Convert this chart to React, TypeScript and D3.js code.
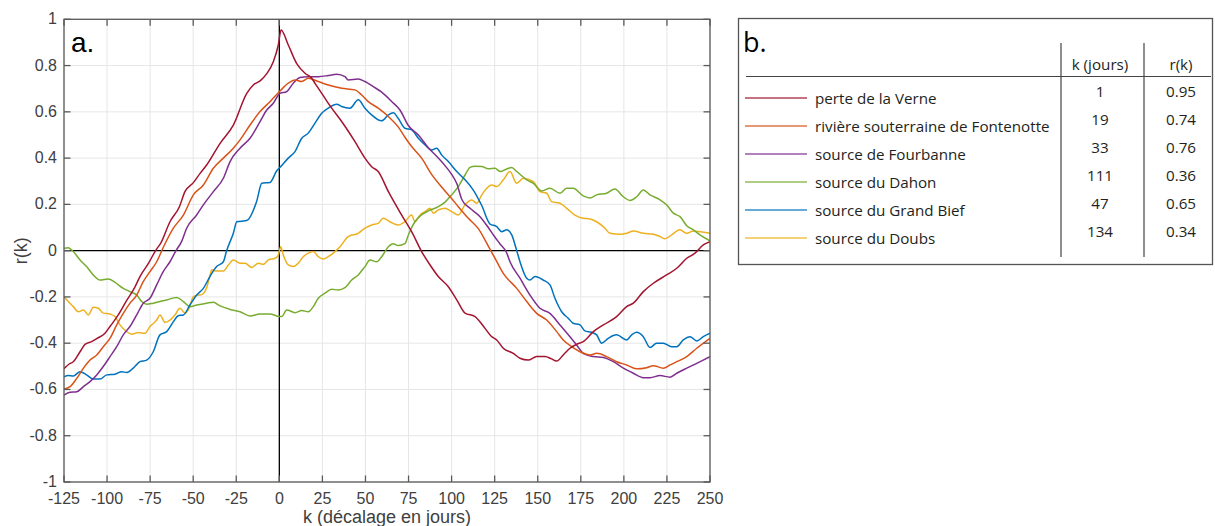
import React from "react";
import * as d3 from "d3";

type Pt = [number, number];

const verne: Pt[] = [[-125,-0.51],[-122,-0.49],[-119.6,-0.48],[-115.7,-0.437],[-112.8,-0.405],[-109,-0.393],[-106,-0.38],[-101.2,-0.357],[-98.3,-0.328],[-93.5,-0.278],[-88.6,-0.215],[-84,-0.16],[-80.9,-0.112],[-76,-0.055],[-71,0.01],[-69,0.03],[-63.5,0.125],[-58,0.19],[-54.8,0.255],[-49.9,0.294],[-46,0.334],[-42.2,0.37],[-34.4,0.464],[-26.7,0.543],[-18.9,0.68],[-15.1,0.716],[-11,0.735],[-7.3,0.765],[-3.5,0.817],[-0.6,0.889],[1,0.954],[5.2,0.889],[10,0.81],[14.9,0.767],[18.8,0.745],[21,0.72],[24.6,0.68],[30.4,0.616],[36.2,0.558],[43.9,0.471],[49.7,0.4],[53.6,0.363],[57.4,0.342],[63.3,0.255],[71,0.154],[76.8,0.082],[82.6,-0.004],[87.5,-0.062],[92.3,-0.112],[98.1,-0.156],[103,-0.213],[107.8,-0.27],[113.6,-0.285],[119.4,-0.336],[123,-0.37],[126.2,-0.386],[130,-0.422],[135.8,-0.444],[139.7,-0.465],[144.5,-0.473],[149.4,-0.458],[154.2,-0.458],[158,-0.468],[161,-0.477],[164.8,-0.451],[168.7,-0.422],[172.5,-0.405],[176.4,-0.393],[182.3,-0.35],[188.1,-0.321],[195.8,-0.285],[201.6,-0.242],[205.5,-0.227],[211.3,-0.177],[217.1,-0.141],[224.8,-0.105],[230.7,-0.076],[236.5,-0.033],[241.3,-0.011],[246.1,0.025],[250,0.039]];

const fontenotte: Pt[] = [[-125,-0.598],[-121.5,-0.588],[-117.6,-0.552],[-113.7,-0.508],[-109.9,-0.473],[-106,-0.451],[-102.2,-0.415],[-98.3,-0.379],[-94.4,-0.321],[-90.6,-0.271],[-86.7,-0.227],[-82.8,-0.192],[-79,-0.134],[-75.1,-0.091],[-71.2,-0.048],[-67,0.02],[-61.5,0.097],[-55.7,0.154],[-49.9,0.241],[-44.1,0.284],[-38.3,0.356],[-32.5,0.4],[-26.7,0.443],[-22.8,0.479],[-17,0.543],[-11.2,0.601],[-5.4,0.644],[0.4,0.69],[5.2,0.724],[9.1,0.738],[13,0.731],[16.8,0.745],[22.6,0.731],[28.4,0.716],[36.2,0.702],[43.9,0.695],[47.8,0.673],[51.6,0.644],[57.4,0.616],[63.3,0.58],[69,0.535],[72.9,0.49],[76.8,0.45],[82.6,0.4],[88.4,0.33],[94.2,0.275],[100,0.225],[103.9,0.19],[109.7,0.14],[115.5,0.095],[121.3,0.02],[125,-0.03],[130,-0.098],[137.8,-0.163],[143.6,-0.22],[149.4,-0.271],[155.2,-0.3],[161,-0.35],[164.8,-0.386],[169.7,-0.415],[174.5,-0.437],[180.3,-0.451],[184.2,-0.444],[190,-0.458],[195.8,-0.48],[201.6,-0.494],[207.4,-0.511],[213.2,-0.506],[217.1,-0.497],[222.9,-0.508],[226.8,-0.494],[230.7,-0.48],[236.5,-0.458],[242.3,-0.422],[250,-0.379]];

const fourbanne: Pt[] = [[-125,-0.624],[-121.5,-0.612],[-117.6,-0.61],[-113.7,-0.588],[-109.9,-0.566],[-106,-0.537],[-102.2,-0.501],[-98.3,-0.458],[-94.4,-0.415],[-90.6,-0.364],[-86.7,-0.328],[-82.8,-0.278],[-79,-0.227],[-75.1,-0.206],[-71.2,-0.148],[-67.4,-0.091],[-63.5,-0.048],[-60,0.0],[-56.7,0.04],[-53.8,0.097],[-48,0.154],[-44.1,0.198],[-38.3,0.255],[-32.5,0.313],[-28.6,0.385],[-22.8,0.443],[-17,0.486],[-11.2,0.558],[-7.3,0.608],[-3.5,0.637],[0.4,0.68],[4.2,0.687],[8.1,0.724],[11.9,0.748],[16.8,0.752],[22.6,0.752],[28.4,0.757],[33.3,0.763],[38.1,0.752],[40,0.738],[45.8,0.742],[49.7,0.731],[54.5,0.709],[59.4,0.685],[65.2,0.645],[70,0.608],[75,0.54],[80.7,0.5],[86.5,0.445],[92.3,0.4],[97,0.36],[100,0.33],[103,0.29],[106,0.22],[110.7,0.183],[116.5,0.147],[121.3,0.1],[125,0.06],[128,0.03],[132,-0.01],[133.9,-0.048],[139.7,-0.119],[145.5,-0.192],[151.3,-0.249],[157.1,-0.271],[162.9,-0.321],[168.7,-0.372],[172.6,-0.408],[176.4,-0.444],[182.3,-0.458],[188.1,-0.462],[193.9,-0.48],[199.7,-0.508],[205.5,-0.53],[211.3,-0.549],[215.2,-0.549],[221,-0.54],[226.8,-0.547],[230.7,-0.53],[236.5,-0.508],[242.3,-0.487],[250,-0.458]];

const dahon: Pt[] = [[-125,0.01],[-122.5,0.013],[-119.6,-0.004],[-115.7,-0.04],[-111.9,-0.069],[-108,-0.105],[-104.1,-0.127],[-99.3,-0.122],[-95.4,-0.137],[-90.6,-0.163],[-86.7,-0.177],[-82.8,-0.192],[-79.9,-0.22],[-77,-0.232],[-73.2,-0.227],[-69.3,-0.22],[-65.4,-0.213],[-59.6,-0.202],[-55.7,-0.22],[-51.9,-0.242],[-48,-0.235],[-42.2,-0.227],[-38.3,-0.223],[-34.4,-0.239],[-28.6,-0.254],[-22.8,-0.264],[-17,-0.282],[-11.2,-0.274],[-5.4,-0.274],[0,-0.285],[1.4,-0.285],[4.3,-0.256],[9.1,-0.268],[13,-0.259],[16.8,-0.264],[19.7,-0.242],[22.6,-0.206],[26.5,-0.184],[30.4,-0.167],[34.2,-0.17],[38.1,-0.16],[42,-0.127],[45.8,-0.105],[49.7,-0.069],[52.6,-0.04],[56.5,-0.048],[59.4,-0.026],[63.3,0.017],[66,0.03],[69,0.022],[72.9,0.03],[74.9,0.068],[78.7,0.125],[82.6,0.155],[86.5,0.172],[92.3,0.19],[96.2,0.21],[100,0.241],[103.9,0.277],[107.8,0.327],[110.7,0.36],[113.6,0.365],[117.5,0.364],[121.3,0.354],[125.2,0.356],[128.1,0.342],[132,0.353],[134.9,0.359],[137.8,0.342],[143.6,0.306],[147.5,0.291],[152.3,0.258],[157.1,0.27],[162.9,0.248],[166.8,0.27],[170.6,0.27],[176.4,0.237],[180.3,0.228],[184.2,0.241],[190,0.248],[194.8,0.267],[199.7,0.233],[203.5,0.217],[207.4,0.233],[211.3,0.262],[215.2,0.241],[221,0.22],[224.8,0.198],[228.7,0.162],[232.6,0.147],[236.5,0.108],[240.3,0.09],[244.2,0.068],[250,0.042]];

const grandBief: Pt[] = [[-125,-0.545],[-122.5,-0.54],[-119.6,-0.542],[-115.7,-0.523],[-111.9,-0.537],[-108,-0.555],[-104.1,-0.555],[-100.2,-0.537],[-95.4,-0.534],[-91.5,-0.523],[-88.6,-0.527],[-84.8,-0.508],[-80.9,-0.48],[-77,-0.473],[-73.2,-0.437],[-69.3,-0.364],[-65.4,-0.35],[-61.5,-0.307],[-58.7,-0.281],[-55.7,-0.278],[-51.9,-0.235],[-48,-0.192],[-44.1,-0.163],[-40.3,-0.112],[-36.4,-0.069],[-32.5,-0.048],[-30.6,0.0],[-26.7,0.075],[-24.7,0.125],[-18.9,0.13],[-13.1,0.215],[-10.2,0.291],[-5.4,0.295],[-1.5,0.345],[0.4,0.36],[5.2,0.4],[9.1,0.428],[13,0.486],[16.8,0.508],[20.7,0.551],[24.6,0.594],[28.4,0.616],[33.3,0.633],[36.2,0.623],[41,0.616],[45.8,0.652],[49.7,0.616],[53.6,0.587],[59.4,0.561],[63.3,0.587],[66.2,0.596],[69,0.572],[72.9,0.529],[76.8,0.522],[80.7,0.486],[84.6,0.457],[88.4,0.435],[91.3,0.443],[94.2,0.414],[98.1,0.385],[103,0.342],[107.8,0.306],[112.6,0.262],[117.5,0.195],[122.3,0.115],[126.2,0.104],[129.1,0.082],[132,0.09],[134.9,0.068],[137.8,0.0],[139.7,-0.048],[143.6,-0.119],[145.5,-0.127],[148.4,-0.112],[153.2,-0.127],[157.1,-0.148],[160,-0.206],[163.9,-0.264],[167.7,-0.292],[170.6,-0.314],[174.5,-0.321],[177.4,-0.347],[181.3,-0.353],[184.2,-0.364],[187.1,-0.4],[190.9,-0.379],[195.8,-0.364],[201.6,-0.386],[204.5,-0.364],[207.4,-0.353],[211.3,-0.372],[215.2,-0.419],[219,-0.4],[222.9,-0.4],[227.7,-0.415],[230.7,-0.415],[234.5,-0.386],[238.4,-0.372],[242.3,-0.39],[246.1,-0.372],[250,-0.357]];

const doubs: Pt[] = [[-125,-0.199],[-122.5,-0.22],[-119.6,-0.242],[-116.7,-0.264],[-113.7,-0.256],[-110.9,-0.278],[-108,-0.245],[-105.1,-0.249],[-102.2,-0.27],[-98.3,-0.274],[-95.4,-0.285],[-92.5,-0.321],[-88.6,-0.35],[-85.7,-0.361],[-81.9,-0.354],[-78,-0.357],[-75.1,-0.328],[-71.2,-0.3],[-69.3,-0.278],[-66.4,-0.31],[-63.5,-0.3],[-60.6,-0.278],[-57.7,-0.249],[-54.8,-0.27],[-52.8,-0.256],[-49.9,-0.199],[-47,-0.192],[-45.1,-0.19],[-42.2,-0.16],[-40,-0.1],[-39.3,-0.083],[-36.4,-0.088],[-32.5,-0.088],[-29.6,-0.062],[-26.7,-0.04],[-22.8,-0.054],[-19.9,-0.054],[-16,-0.073],[-12.2,-0.054],[-9.3,-0.059],[-6.3,-0.04],[-2.5,-0.033],[-0.6,-0.019],[0.8,0.017],[2.3,-0.019],[5.2,-0.062],[8.1,-0.069],[11,-0.054],[13.9,-0.026],[16.8,-0.011],[19.7,-0.004],[22.6,-0.026],[25.5,-0.036],[28.4,-0.026],[32.3,-0.004],[35.2,0.017],[40,0.061],[45.8,0.075],[49.7,0.097],[53.6,0.111],[57.4,0.118],[60.3,0.14],[64.2,0.125],[69,0.111],[72.9,0.125],[76.8,0.154],[78.7,0.125],[81.7,0.154],[84.6,0.169],[87.5,0.183],[89.4,0.162],[92.3,0.176],[96.2,0.183],[100,0.169],[103.9,0.154],[107.8,0.198],[111.7,0.219],[114.6,0.205],[117.5,0.241],[120.4,0.27],[123.3,0.284],[126.2,0.277],[130,0.306],[133.9,0.342],[137.8,0.291],[141.6,0.313],[147.5,0.298],[151.3,0.255],[155.2,0.248],[158.1,0.212],[162.9,0.205],[166.8,0.183],[171.6,0.154],[176.4,0.14],[180.3,0.137],[184.2,0.125],[189,0.097],[191.9,0.075],[197.7,0.071],[201.6,0.075],[205.5,0.085],[211.3,0.075],[217.1,0.071],[221,0.061],[223.9,0.051],[227.7,0.068],[232.6,0.09],[236.5,0.075],[240.3,0.085],[244.2,0.082],[250,0.075]];

const seriesNames = ["perte de la Verne", "rivière souterraine de Fontenotte", "source de Fourbanne", "source du Dahon", "source du Grand Bief", "source du Doubs"];
const seriesData = [verne, fontenotte, fourbanne, dahon, grandBief, doubs];
const seriesColors = ["#A2142F", "#D95319", "#7E2F8E", "#77AC30", "#0072BD", "#EDB120"];
const lagK = ["1", "19", "33", "111", "47", "134"];
const lagR = ["0.95", "0.74", "0.76", "0.36", "0.65", "0.34"];
// draw order in the chart (Doubs and Dahon underneath)
const drawOrder = [5, 3, 4, 2, 1, 0];

const xTicks = [-125, -100, -75, -50, -25, 0, 25, 50, 75, 100, 125, 150, 175, 200, 225, 250];
const yTicks = [-1, -0.8, -0.6, -0.4, -0.2, 0, 0.2, 0.4, 0.6, 0.8, 1];
const yTickLabels = ["-1", "-0.8", "-0.6", "-0.4", "-0.2", "0", "0.2", "0.4", "0.6", "0.8", "1"];

const W = 1215, H = 526;
const PL = 64, PR = 710, PT = 19.3, PB = 482;

export default function App() {
  const x = d3.scaleLinear().domain([-125, 250]).range([PL, PR]);
  const y = d3.scaleLinear().domain([-1, 1]).range([PB, PT]);
  const line = d3.line<Pt>().x(d => x(d[0])).y(d => y(d[1])).curve(d3.curveMonotoneX);
  const axisColor = "#5a5a5a";
  const tickFont = "'Liberation Sans', Arial, Helvetica, sans-serif";
  const legFont = "'Open Sans', 'Noto Sans', sans-serif";
  const tl = 6.5;
  const rowY = (i: number) => 98 + i * 28;

  return (
    <svg width={W} height={H} style={{ position: "absolute", left: 0, top: 0, background: "#fff" }}>
      <defs>
        <clipPath id="plotclip">
          <rect x={PL} y={PT} width={PR - PL} height={PB - PT} />
        </clipPath>
      </defs>
      <rect x={0} y={0} width={W} height={H} fill="#fff" />
      {/* grid */}
      <g stroke="#e6e6e6" strokeWidth={1}>
        {xTicks.map(t => <line key={"gx" + t} x1={x(t)} x2={x(t)} y1={PT} y2={PB} />)}
        {yTicks.map(t => <line key={"gy" + t} x1={PL} x2={PR} y1={y(t)} y2={y(t)} />)}
      </g>
      {/* zero lines */}
      <g stroke="#000" strokeWidth={1.3}>
        <line x1={PL} x2={PR} y1={y(0)} y2={y(0)} />
        <line x1={x(0)} x2={x(0)} y1={PT} y2={PB} />
      </g>
      {/* series */}
      <g clipPath="url(#plotclip)" fill="none" strokeWidth={1.5} strokeLinejoin="round">
        {drawOrder.map(i => (
          <path key={"s" + i} d={line(seriesData[i]) || ""} stroke={seriesColors[i]} />
        ))}
      </g>
      {/* box and ticks */}
      <g stroke={axisColor} strokeWidth={1.3} fill="none">
        <rect x={PL} y={PT} width={PR - PL} height={PB - PT} />
        {xTicks.map(t => (
          <g key={"tx" + t}>
            <line x1={x(t)} x2={x(t)} y1={PB} y2={PB - tl} />
            <line x1={x(t)} x2={x(t)} y1={PT} y2={PT + tl} />
          </g>
        ))}
        {yTicks.map(t => (
          <g key={"ty" + t}>
            <line x1={PL} x2={PL + tl} y1={y(t)} y2={y(t)} />
            <line x1={PR} x2={PR - tl} y1={y(t)} y2={y(t)} />
          </g>
        ))}
      </g>
      {/* tick labels */}
      <g fill="#404040" fontFamily={tickFont} fontSize={16}>
        {xTicks.map(t => (
          <text key={"lx" + t} x={x(t)} y={PB + 21.5} textAnchor="middle">{String(t)}</text>
        ))}
        {yTicks.map((t, i) => (
          <text key={"ly" + t} x={PL - 7} y={y(t) + 5} textAnchor="end">{yTickLabels[i]}</text>
        ))}
      </g>
      <text x={(PL + PR) / 2} y={523} textAnchor="middle" fill="#404040" fontFamily={tickFont} fontSize={18}>k (décalage en jours)</text>
      <text transform={`translate(27, ${y(0)}) rotate(-90)`} textAnchor="middle" fill="#404040" fontFamily={tickFont} fontSize={18}>r(k)</text>
      <text x={71} y={52} fill="#000" fontFamily={tickFont} fontSize={28}>a.</text>

      {/* legend table */}
      <rect x={738.5} y={18.5} width={474} height={246} fill="#fff" stroke="#555" strokeWidth={1.3} />
      <text x={743} y={52} fill="#000" fontFamily={legFont} fontSize={27}>b.</text>
      <line x1={746} x2={1211} y1={76.5} y2={76.5} stroke="#444" strokeWidth={1.2} />
      <line x1={1061} x2={1061} y1={43} y2={257} stroke="#444" strokeWidth={1.2} />
      <line x1={1144} x2={1144} y1={43} y2={257} stroke="#444" strokeWidth={1.2} />
      <g fontFamily={legFont} fontSize={15.2} fill="#231f20">
        <text x={1100} y={69.5} textAnchor="middle">k (jours)</text>
        <text x={1181} y={69.5} textAnchor="middle">r(k)</text>
        {seriesNames.map((n, i) => (
          <g key={"leg" + i}>
            <line x1={745} x2={807} y1={rowY(i)} y2={rowY(i)} stroke={seriesColors[i]} strokeWidth={1.5} strokeOpacity={0.8} />
            <text x={815} y={rowY(i) + 5.5}>{n}</text>
            <text x={1100} y={rowY(i) - 1.5} textAnchor="middle">{lagK[i]}</text>
            <text x={1181} y={rowY(i) - 1.5} textAnchor="middle">{lagR[i]}</text>
          </g>
        ))}
      </g>
    </svg>
  );
}
